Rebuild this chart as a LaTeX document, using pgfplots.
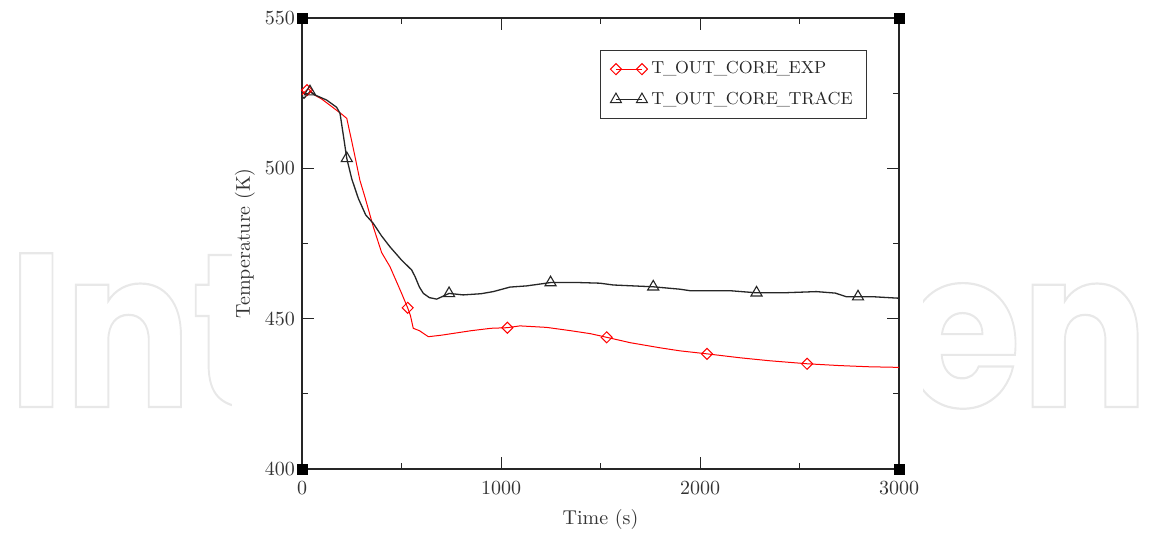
\documentclass[border=0pt]{standalone}
\usepackage{pgfplots}
\pgfplotsset{compat=1.18}
\usepackage{fontspec}
\newfontfamily\wmfont{Poppins}
\newcommand{\us}{\kern-0.7pt\_\kern-0.7pt}

\pgfplotstableread{
t T
0 524.5
15 525.5
32 526.5
60 524.5
100 523
150 520.5
200 518
225 516.6
250 509
266 504
291 496
316 490.5
358 480.6
400 472
442 467.3
500 458.5
531 453.6
545 451
559 446.8
590 446
635 444
700 444.5
760 445.1
850 446
950 446.8
1032 447
1095 447.6
1229 447.1
1350 446
1450 445
1531 443.8
1650 442
1800 440.3
1899 439.3
2035 438.3
2200 437
2350 436
2538 435
2700 434.4
2850 434
3000 433.8
}\expdata

\pgfplotstableread{
t T
25 526
531 453.6
1032 447
1531 443.8
2035 438.3
2538 435
}\expmarks

\pgfplotstableread{
t T
0 524
10 523.3
40 525.5
65 524.4
124 522.7
174 520.3
191 518.3
210 510
225 503.3
250 496.5
283 490
320 484.5
358 481.7
400 477.5
442 473.9
500 469.5
551 466.2
568 464
590 460.5
610 458.4
640 457
677 456.5
739 458.4
810 457.9
900 458.3
961 459
1045 460.5
1129 460.9
1249 462
1397 462
1497 461.8
1564 461.2
1765 460.6
1899 459.8
1950 459.3
2151 459.3
2284 458.6
2418 458.6
2585 459
2680 458.5
2735 457.3
2869 457.3
2920 457.1
3000 456.8
}\tracedata

\pgfplotstableread{
t T
40 525.5
225 503.3
739 458.4
1249 462
1765 460.6
2284 458.6
2794 457.3
}\tracemarks

\begin{document}
\begin{tikzpicture}
\path[use as bounding box] (0,0) rectangle (574.5pt,267.5pt);
% watermark
\node[anchor=base west, inner sep=0pt] at (4pt,64pt)
  {\textcolor{black!9}{\special{pdf:literal direct 1 Tr 1 w}\resizebox{570pt}{81pt}{\fontsize{100pt}{100pt}\wmfont\bfseries IntechOpen}\special{pdf:literal direct 0 Tr}}};
\fill[white] (116pt,0pt) rectangle (461.5pt,267.5pt);
\begin{axis}[
  at={(151pt,33pt)}, anchor=south west,
  scale only axis, width=298.5pt, height=225.5pt,
  xmin=0, xmax=3000, ymin=400, ymax=550,
  xtick={0,1000,2000,3000}, minor xtick={500,1500,2500},
  ytick={400,450,500,550}, minor ytick={425,475,525},
  tick align=inside, major tick length=6pt, minor tick length=3pt,
  axis line style={black!85, line width=0.6pt},
  every tick/.style={black!85, line width=0.5pt},
  tick label style={text=black!80, font=\fontsize{10.3}{12}\selectfont},
  scaled ticks=false,
  xticklabel style={/pgf/number format/1000 sep={}, yshift=-3pt},
  xlabel={Time (s)}, ylabel={Temperature (K)},
  label style={text=black!80},
  xlabel style={at={(axis description cs:0.5,-0.111)}, anchor=center},
  ylabel style={at={(axis description cs:-0.0955,0.5)}, anchor=center},
  clip=false,
  legend cell align=left,
  legend style={at={(axis description cs:0.499,0.929)}, anchor=north west,
    draw=black!80, line width=0.5pt, fill=white, text=black!85,
    font=\fontsize{8.7}{10}\selectfont,
    inner xsep=5pt, inner ysep=3.5pt, row sep=3.5pt,
    /tikz/every even column/.append style={column sep=2pt}},
  legend image code/.code={\draw[mark repeat=1,#1] plot coordinates {(0pt,0pt) (13pt,0pt)};},
]
\addlegendimage{red, line width=0.5pt, mark=square, mark size=1.95pt, mark options={rotate=45, solid}}
\addlegendentry{T\us OUT\us CORE\us EXP}
\addlegendimage{black!85, line width=0.5pt, mark=triangle, mark size=3.2pt}
\addlegendentry{T\us OUT\us CORE\us TRACE}

\addplot[red, line width=0.5pt, no marks, forget plot] table[x=t,y=T] {\expdata};
\addplot[black!85, line width=0.65pt, no marks, forget plot] table[x=t,y=T] {\tracedata};
\addplot[red, only marks, mark=square, mark size=1.95pt, mark options={rotate=45, line width=0.5pt, fill=none}, forget plot] table[x=t,y=T] {\expmarks};
\addplot[black!85, only marks, mark=triangle, mark size=3.2pt, mark options={line width=0.55pt, fill=none}, forget plot] table[x=t,y=T] {\tracemarks};
\addplot[black, only marks, mark=square*, mark size=2.5pt, forget plot] coordinates {(0,400) (0,550) (3000,400) (3000,550)};
\end{axis}
\end{tikzpicture}
\end{document}
